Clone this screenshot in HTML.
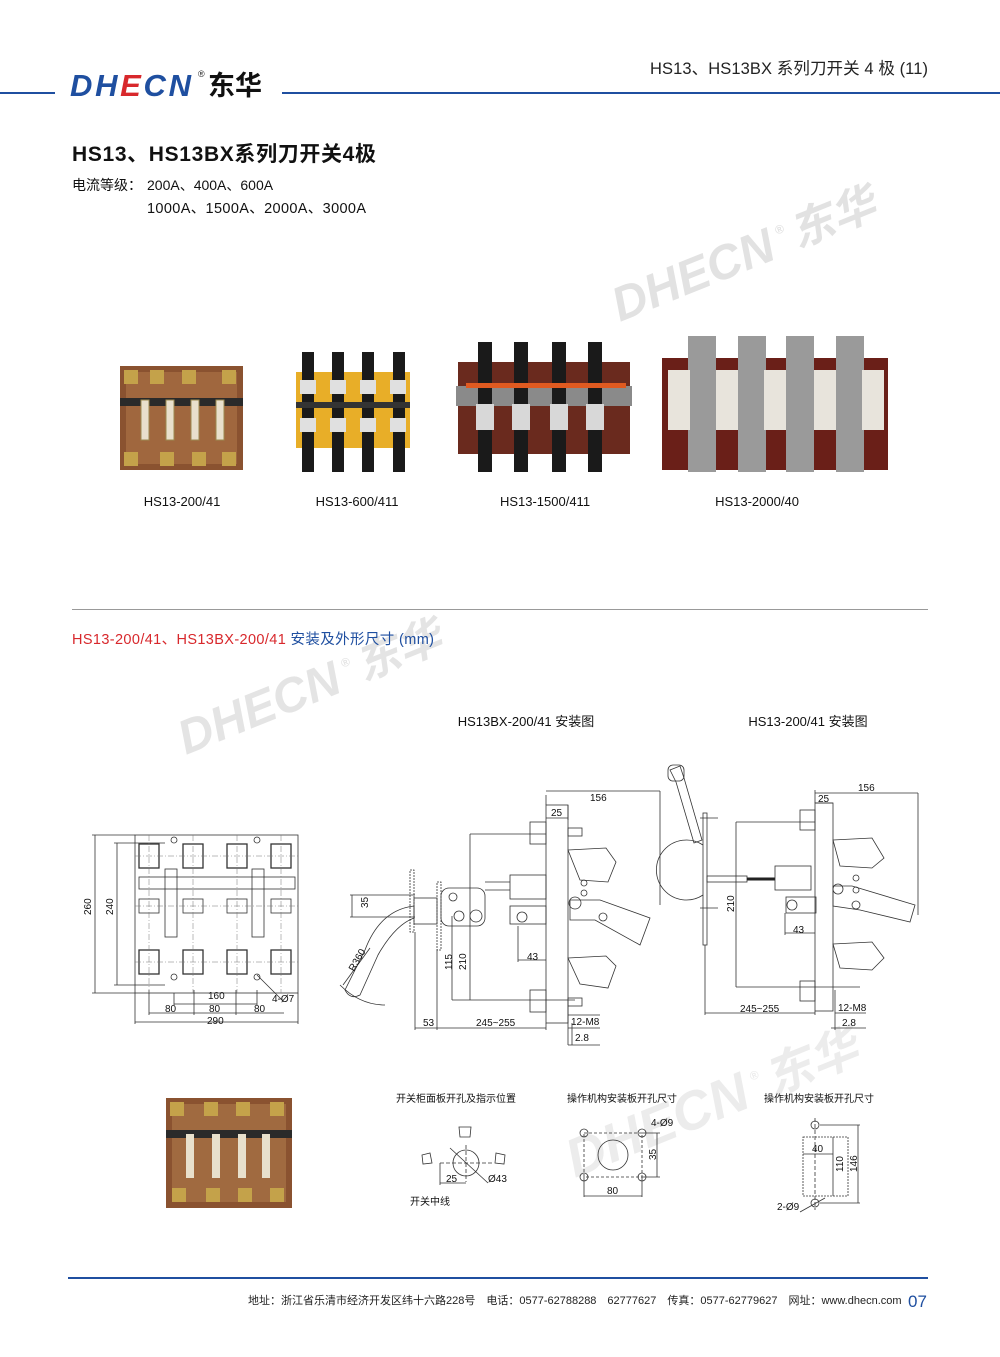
<!DOCTYPE html>
<html><head><meta charset="utf-8"><style>
html,body{margin:0;padding:0;background:#fff}
body{width:1000px;height:1357px;position:relative;overflow:hidden;font-family:"Liberation Sans","Noto Sans CJK SC",sans-serif}
svg{position:absolute;left:0;top:0}
text{font-family:"Liberation Sans","Noto Sans CJK SC",sans-serif}
</style></head><body>
<svg width="1000" height="1357" viewBox="0 0 1000 1357" xmlns="http://www.w3.org/2000/svg">
<!-- header -->
<rect x="0" y="92" width="55" height="2" fill="#1f4fa0"/>
<rect x="282" y="92" width="718" height="2" fill="#1f4fa0"/>
<text x="70" y="96" font-size="31" font-weight="bold" font-style="italic" fill="#1f4fa0" letter-spacing="3" textLength="124">DH<tspan fill="#d8282c">E</tspan>CN</text>
<text x="198" y="77" font-size="9" fill="#222">®</text>
<text x="208" y="95" font-size="27" font-weight="bold" fill="#111">东华</text>
<text x="650" y="74" font-size="16.5" fill="#222" textLength="278">HS13、HS13BX 系列刀开关 4 极 (11)</text>
<text x="72" y="161" font-size="21" font-weight="bold" fill="#111" textLength="304">HS13、HS13BX系列刀开关4极</text>
<text x="72" y="190" font-size="14" fill="#111">电流等级：<tspan x="147">200A、400A、600A</tspan></text>
<text x="147" y="213" font-size="14.5" fill="#111" textLength="219">1000A、1500A、2000A、3000A</text>
<!-- watermarks -->
<g transform="translate(620,322) rotate(-22)" fill="#e2e2e2" font-weight="bold" font-style="italic">
<text x="0" y="0" font-size="48">DHECN</text><text x="178" y="-22" font-size="12">®</text><text x="192" y="-2" font-size="44">东华</text></g>
<g transform="translate(186,755) rotate(-22)" fill="#e4e4e4" font-weight="bold" font-style="italic">
<text x="0" y="0" font-size="48">DHECN</text><text x="178" y="-22" font-size="12">®</text><text x="192" y="-2" font-size="44">东华</text></g>
<g transform="translate(575,1178) rotate(-22)" fill="#ececec" font-weight="bold" font-style="italic">
<text x="0" y="0" font-size="54">DHECN</text><text x="200" y="-24" font-size="12">®</text><text x="214" y="-2" font-size="48">东华</text></g>
<!-- photos -->
<g>
<rect x="120" y="366" width="123" height="104" fill="#8a5230"/>
<rect x="126" y="372" width="111" height="92" fill="#a0673e"/>
<rect x="120" y="398" width="123" height="8" fill="#2a2a2a"/>
<g fill="#e8e0cc" stroke="#9c8a50"><rect x="141" y="400" width="8" height="40"/><rect x="166" y="400" width="8" height="40"/><rect x="191" y="400" width="8" height="40"/><rect x="216" y="400" width="8" height="40"/></g>
<g fill="#c4a24a"><rect x="124" y="370" width="14" height="14"/><rect x="150" y="370" width="14" height="14"/><rect x="182" y="370" width="14" height="14"/><rect x="222" y="370" width="14" height="14"/><rect x="124" y="452" width="14" height="14"/><rect x="160" y="452" width="14" height="14"/><rect x="192" y="452" width="14" height="14"/><rect x="222" y="452" width="14" height="14"/></g>
</g>
<g>
<rect x="296" y="372" width="114" height="76" fill="#e8ae28"/>
<g fill="#1a1a1a"><rect x="302" y="352" width="12" height="120"/><rect x="332" y="352" width="12" height="120"/><rect x="362" y="352" width="12" height="120"/><rect x="393" y="352" width="12" height="120"/></g>
<rect x="296" y="402" width="114" height="6" fill="#333"/>
<g fill="#e0e0e0"><rect x="300" y="380" width="16" height="14"/><rect x="330" y="380" width="16" height="14"/><rect x="360" y="380" width="16" height="14"/><rect x="390" y="380" width="16" height="14"/><rect x="300" y="418" width="16" height="14"/><rect x="330" y="418" width="16" height="14"/><rect x="360" y="418" width="16" height="14"/><rect x="390" y="418" width="16" height="14"/></g>
</g>
<g>
<rect x="458" y="362" width="172" height="92" fill="#6a2a1e"/>
<rect x="456" y="386" width="176" height="20" fill="#8a8a8a"/>
<g fill="#1a1a1a"><rect x="478" y="342" width="14" height="130"/><rect x="514" y="342" width="14" height="130"/><rect x="552" y="342" width="14" height="130"/><rect x="588" y="342" width="14" height="130"/></g>
<rect x="466" y="383" width="160" height="5" fill="#e05a20"/>
<g fill="#d8d8d8"><rect x="476" y="404" width="18" height="26"/><rect x="512" y="404" width="18" height="26"/><rect x="550" y="404" width="18" height="26"/><rect x="586" y="404" width="18" height="26"/></g>
</g>
<g>
<rect x="662" y="358" width="226" height="112" fill="#6a1f18"/>
<g fill="#9a9a9a"><rect x="688" y="336" width="28" height="136"/><rect x="738" y="336" width="28" height="136"/><rect x="786" y="336" width="28" height="136"/><rect x="836" y="336" width="28" height="136"/></g>
<g fill="#e8e4dc"><rect x="668" y="370" width="22" height="60"/><rect x="716" y="370" width="22" height="60"/><rect x="764" y="370" width="22" height="60"/><rect x="814" y="370" width="22" height="60"/><rect x="862" y="370" width="22" height="60"/></g>
</g>
<g font-size="13" fill="#111" text-anchor="middle">
<text x="182" y="506">HS13-200/41</text><text x="357" y="506">HS13-600/411</text><text x="545" y="506">HS13-1500/411</text><text x="757" y="506">HS13-2000/40</text></g>
<rect x="72" y="609" width="856" height="1" fill="#999"/>
<text x="72" y="644" font-size="14.5" fill="#d8282c" textLength="362">HS13-200/41、HS13BX-200/41 <tspan fill="#1f4fa0">安装及外形尺寸 (mm)</tspan></text>
<g font-size="13" fill="#111" text-anchor="middle"><text x="526" y="726">HS13BX-200/41 安装图</text><text x="808" y="726">HS13-200/41 安装图</text></g>

<!-- front view drawing -->
<g stroke="#333" fill="none" stroke-width="0.8">
<rect x="135" y="835" width="163" height="158"/>
<line x1="92" y1="835" x2="135" y2="835"/><line x1="92" y1="993" x2="135" y2="993"/><line x1="95" y1="835" x2="95" y2="993"/>
<line x1="114" y1="843" x2="165" y2="843"/><line x1="114" y1="985" x2="165" y2="985"/><line x1="117" y1="843" x2="117" y2="985"/>
<line x1="135" y1="993" x2="135" y2="1024"/><line x1="298" y1="993" x2="298" y2="1024"/><line x1="135" y1="1022" x2="298" y2="1022"/>
<line x1="149" y1="1013" x2="284" y2="1013"/><line x1="174" y1="993" x2="174" y2="1005"/><line x1="174" y1="1004" x2="257" y2="1004"/>
<line x1="149" y1="990" x2="149" y2="1015"/><line x1="194" y1="990" x2="194" y2="1015"/><line x1="236" y1="990" x2="236" y2="1015"/><line x1="257" y1="990" x2="257" y2="1005"/>
<line x1="257" y1="975" x2="282" y2="1000"/>
<g stroke-width="1.3"><rect x="139" y="844" width="20" height="24"/><rect x="183" y="844" width="20" height="24"/><rect x="227" y="844" width="20" height="24"/><rect x="271" y="844" width="20" height="24"/>
<rect x="139" y="950" width="20" height="24"/><rect x="183" y="950" width="20" height="24"/><rect x="227" y="950" width="20" height="24"/><rect x="271" y="950" width="20" height="24"/></g>
<rect x="139" y="899" width="20" height="14"/><rect x="183" y="899" width="20" height="14"/><rect x="227" y="899" width="20" height="14"/><rect x="271" y="899" width="20" height="14"/>
<rect x="139" y="877" width="156" height="12"/><rect x="165" y="869" width="12" height="68"/><rect x="252" y="869" width="12" height="68"/>
<circle cx="174" cy="840" r="3"/><circle cx="257" cy="840" r="3"/><circle cx="174" cy="977" r="3"/><circle cx="257" cy="977" r="3"/>
</g>
<g stroke="#777" stroke-width="0.5" stroke-dasharray="6,2,1,2"><line x1="149" y1="835" x2="149" y2="993"/><line x1="193" y1="835" x2="193" y2="993"/><line x1="237" y1="835" x2="237" y2="993"/><line x1="281" y1="835" x2="281" y2="993"/><line x1="135" y1="856" x2="298" y2="856"/><line x1="135" y1="906" x2="298" y2="906"/><line x1="135" y1="962" x2="298" y2="962"/></g>
<g font-size="10" fill="#111">
<text transform="translate(91,915) rotate(-90)">260</text><text transform="translate(113,915) rotate(-90)">240</text>
<text x="208" y="999">160</text><text x="165" y="1012">80</text><text x="209" y="1012">80</text><text x="254" y="1012">80</text><text x="207" y="1024">290</text><text x="272" y="1002">4-Ø7</text></g>

<!-- side view HS13BX -->
<g stroke="#333" fill="none" stroke-width="0.8">
<rect x="410" y="870" width="4" height="62" stroke-dasharray="2,1"/><rect x="437" y="882" width="4" height="68" stroke-dasharray="2,1"/>
<rect x="414" y="898" width="23" height="26"/><rect x="441" y="888" width="44" height="38" rx="8"/>
<circle cx="459" cy="916" r="5"/><circle cx="476" cy="916" r="6"/><circle cx="453" cy="897" r="4"/>
<path d="M414 906 Q380 910 365 950 L345 990 Q350 1000 360 995 L378 955 Q395 925 414 918 Z"/>
<path d="M340 985 Q360 1005 385 1005"/>
<line x1="343" y1="985" x2="370" y2="948"/>
<rect x="546" y="805" width="22" height="218"/>
<rect x="510" y="875" width="36" height="24"/><line x1="485" y1="882" x2="510" y2="882"/><line x1="485" y1="890" x2="510" y2="890"/>
<rect x="510" y="906" width="36" height="18"/><circle cx="522" cy="917" r="5"/>
<path d="M568 850 L606 848 L616 862 L608 882 L580 880 Z"/><path d="M568 958 L606 956 L616 966 L608 988 L580 984 Z"/>
<path d="M570 900 L600 900 L650 918 L640 945 L595 920 L570 920 Z"/>
<circle cx="575" cy="903" r="6"/><circle cx="584" cy="883" r="3"/><circle cx="584" cy="893" r="3"/><circle cx="603" cy="917" r="4"/>
<rect x="530" y="822" width="16" height="22"/><rect x="530" y="990" width="16" height="22"/>
<rect x="568" y="828" width="14" height="8"/><rect x="568" y="998" width="14" height="8"/>
<line x1="546" y1="795" x2="546" y2="805"/><line x1="546" y1="791" x2="660" y2="791"/><line x1="660" y1="791" x2="660" y2="905"/>
<line x1="546" y1="818" x2="568" y2="818"/><line x1="568" y1="805" x2="568" y2="820"/>
<line x1="470" y1="834" x2="546" y2="834"/><line x1="470" y1="834" x2="470" y2="1000"/><line x1="452" y1="1000" x2="575" y2="1000"/><line x1="452" y1="916" x2="452" y2="1000"/>
<line x1="518" y1="926" x2="518" y2="962"/><line x1="518" y1="960" x2="546" y2="960"/>
<line x1="415" y1="932" x2="415" y2="1030"/><line x1="437" y1="950" x2="437" y2="1030"/><line x1="415" y1="1028" x2="546" y2="1028"/><line x1="546" y1="1023" x2="546" y2="1030"/>
<line x1="352" y1="895" x2="352" y2="917"/><line x1="350" y1="895" x2="415" y2="895"/><line x1="350" y1="917" x2="415" y2="917"/>
<line x1="568" y1="1000" x2="568" y2="1045"/><line x1="568" y1="1015" x2="600" y2="1015"/><line x1="568" y1="1028" x2="600" y2="1028"/><line x1="568" y1="1045" x2="600" y2="1045"/><line x1="572" y1="1023" x2="572" y2="1045"/>
</g>
<g font-size="10" fill="#111">
<text x="590" y="801">156</text><text x="551" y="816">25</text>
<text transform="translate(368,908) rotate(-90)">35</text>
<text transform="translate(354,972) rotate(-60)">R360</text>
<text transform="translate(452,970) rotate(-90)">115</text><text transform="translate(466,970) rotate(-90)">210</text>
<text x="527" y="960">43</text><text x="423" y="1026">53</text><text x="476" y="1026">245~255</text><text x="571" y="1025">12-M8</text><text x="575" y="1041">2.8</text></g>

<!-- side view HS13 -->
<g stroke="#333" fill="none" stroke-width="0.8">
<path d="M670 770 L680 766 L684 778 L702 840 L694 843 L676 782 Z"/><rect x="668" y="765" width="16" height="16" rx="5"/>
<path d="M703 845 A30 30 0 1 0 703 895"/>
<rect x="703" y="813" width="4" height="132"/>
<rect x="707" y="876" width="40" height="6"/><line x1="747" y1="879" x2="775" y2="879" stroke-width="3" stroke="#222"/>
<rect x="775" y="866" width="36" height="24"/>
<rect x="786" y="897" width="30" height="16"/><circle cx="792" cy="905" r="5"/>
<rect x="815" y="803" width="18" height="208"/>
<path d="M833 840 L872 838 L884 858 L872 868 L840 866 Z"/><path d="M833 944 L872 942 L884 958 L872 970 L840 968 Z"/>
<path d="M833 886 L852 886 L915 905 L910 922 L860 910 L833 906 Z"/><circle cx="838" cy="889" r="5"/><circle cx="856" cy="878" r="3"/><circle cx="856" cy="890" r="3"/><circle cx="856" cy="905" r="4"/>
<rect x="800" y="810" width="15" height="20"/><rect x="800" y="981" width="15" height="20"/>
<line x1="815" y1="793" x2="918" y2="793"/><line x1="918" y1="793" x2="918" y2="915"/><line x1="815" y1="790" x2="815" y2="803"/>
<line x1="815" y1="803" x2="833" y2="803"/>
<line x1="736" y1="822" x2="815" y2="822"/><line x1="736" y1="822" x2="736" y2="987"/><line x1="736" y1="987" x2="860" y2="987"/>
<line x1="785" y1="913" x2="785" y2="935"/><line x1="785" y1="933" x2="815" y2="933"/>
<line x1="705" y1="945" x2="705" y2="1015"/><line x1="705" y1="1013" x2="815" y2="1013"/><line x1="815" y1="1011" x2="815" y2="1015"/>
<line x1="835" y1="990" x2="835" y2="1030"/><line x1="835" y1="1013" x2="866" y2="1013"/><line x1="831" y1="1028" x2="866" y2="1028"/>
<line x1="700" y1="818" x2="718" y2="818"/><line x1="700" y1="908" x2="718" y2="908"/>
</g>
<g font-size="10" fill="#111">
<text x="858" y="791">156</text><text x="818" y="802">25</text>
<text transform="translate(734,912) rotate(-90)">210</text>
<text x="793" y="933">43</text><text x="740" y="1012">245~255</text><text x="838" y="1011">12-M8</text><text x="842" y="1026">2.8</text></g>

<!-- bottom photo -->
<g>
<rect x="166" y="1098" width="126" height="110" fill="#8a5230"/>
<rect x="172" y="1104" width="114" height="98" fill="#a06a40"/>
<rect x="166" y="1130" width="126" height="8" fill="#2a2a2a"/>
<g fill="#e8e0cc"><rect x="186" y="1134" width="8" height="44"/><rect x="212" y="1134" width="8" height="44"/><rect x="238" y="1134" width="8" height="44"/><rect x="262" y="1134" width="8" height="44"/></g>
<g fill="#c4a24a"><rect x="170" y="1102" width="14" height="14"/><rect x="204" y="1102" width="14" height="14"/><rect x="236" y="1102" width="14" height="14"/><rect x="270" y="1102" width="14" height="14"/><rect x="172" y="1188" width="14" height="14"/><rect x="206" y="1188" width="14" height="14"/><rect x="238" y="1188" width="14" height="14"/><rect x="270" y="1188" width="14" height="14"/></g>
</g>
<!-- bottom drawings -->
<g font-size="10" fill="#111"><text x="396" y="1102">开关柜面板开孔及指示位置</text><text x="567" y="1102">操作机构安装板开孔尺寸</text><text x="764" y="1102">操作机构安装板开孔尺寸</text><text x="410" y="1205">开关中线</text>
<text x="446" y="1182">25</text><text x="488" y="1182">Ø43</text><text x="651" y="1126">4-Ø9</text><text transform="translate(656,1160) rotate(-90)">35</text><text x="607" y="1194">80</text>
<text x="812" y="1152">40</text><text transform="translate(843,1172) rotate(-90)">110</text><text transform="translate(857,1172) rotate(-90)">146</text><text x="777" y="1210">2-Ø9</text></g>
<g stroke="#333" fill="none" stroke-width="0.8">
<circle cx="466" cy="1163" r="13"/><line x1="440" y1="1163" x2="492" y2="1163" stroke-dasharray="4,2"/><line x1="466" y1="1145" x2="466" y2="1182" stroke-dasharray="4,2"/><line x1="450" y1="1148" x2="488" y2="1183"/>
<path d="M459 1127 L471 1127 L470 1137 L460 1137 Z"/><path d="M422 1155 L430 1153 L432 1163 L423 1164 Z"/><path d="M496 1153 L505 1155 L504 1164 L495 1163 Z"/>
<line x1="440" y1="1163" x2="440" y2="1185"/><line x1="440" y1="1183" x2="466" y2="1183"/>
<rect x="584" y="1133" width="58" height="44" stroke-dasharray="3,2"/><circle cx="613" cy="1155" r="15"/>
<circle cx="584" cy="1133" r="4"/><circle cx="642" cy="1133" r="4"/><circle cx="584" cy="1177" r="4"/><circle cx="642" cy="1177" r="4"/>
<line x1="642" y1="1133" x2="660" y2="1133"/><line x1="642" y1="1177" x2="660" y2="1177"/><line x1="657" y1="1133" x2="657" y2="1177"/>
<line x1="584" y1="1177" x2="584" y2="1197"/><line x1="642" y1="1177" x2="642" y2="1197"/><line x1="584" y1="1196" x2="642" y2="1196"/>
<rect x="803" y="1137" width="45" height="59" stroke-dasharray="2,1"/><circle cx="815" cy="1125" r="4"/><circle cx="815" cy="1203" r="4"/><line x1="815" y1="1118" x2="815" y2="1210" stroke-dasharray="4,2"/>
<line x1="803" y1="1154" x2="833" y2="1154"/><line x1="833" y1="1137" x2="833" y2="1196"/>
<line x1="820" y1="1125" x2="860" y2="1125"/><line x1="820" y1="1203" x2="860" y2="1203"/><line x1="858" y1="1125" x2="858" y2="1203"/>
<line x1="800" y1="1212" x2="825" y2="1198"/>
</g>
<!-- footer -->
<rect x="68" y="1277" width="860" height="2" fill="#1f4fa0"/>
<text x="248" y="1304" font-size="11" fill="#222">地址：浙江省乐清市经济开发区纬十六路228号　电话：0577-62788288　62777627　传真：0577-62779627　网址：www.dhecn.com</text>
<text x="908" y="1307" font-size="17" fill="#1f4fa0">07</text>
</svg>
</body></html>
